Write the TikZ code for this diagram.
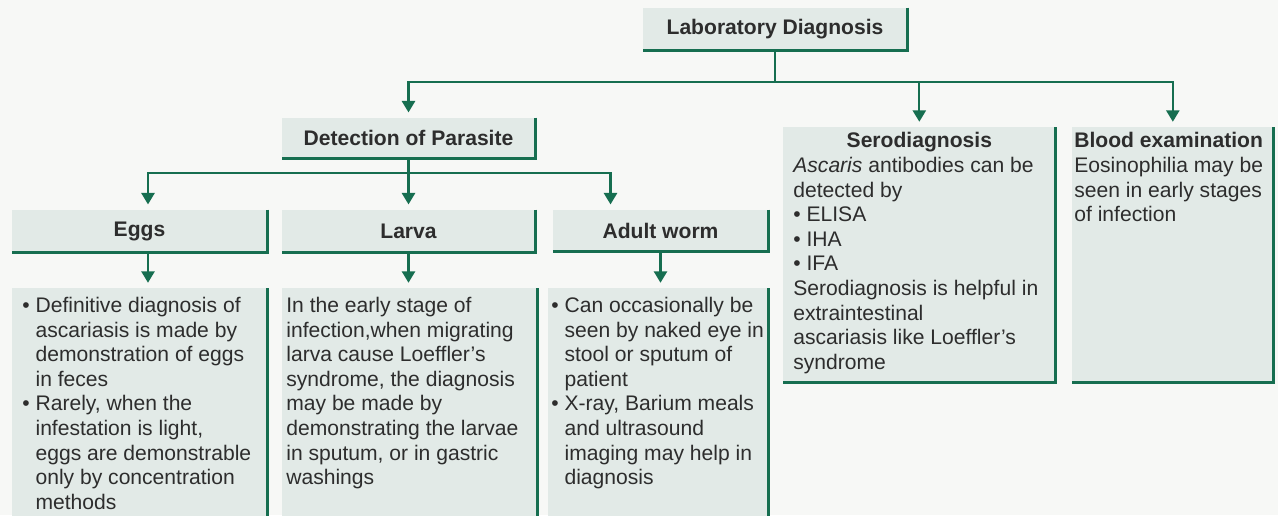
\documentclass[tikz,border=0pt]{standalone}
\usepackage{fontspec}
\setmainfont{Liberation Sans}
\usepackage{tikz}
\usetikzlibrary{arrows.meta, positioning}
\definecolor{dxgreen}{RGB}{22,110,80}
\definecolor{boxgray}{RGB}{226,234,231}
\definecolor{pagegray}{RGB}{247,248,246}
\definecolor{inkgray}{RGB}{45,45,45}
\newcommand\dotitem{\textbullet\ }
\newcommand\dotgap{\hphantom{\textbullet\ }}

\begin{document}
\begin{tikzpicture}[
  x=0.02cm, y=-0.02cm,
  font=\fontsize{12}{14}\selectfont,
  text=inkgray,
  headbox/.style={fill=boxgray, inner sep=0pt, minimum height=0.84cm,
                  font=\fontsize{12}{14}\selectfont\bfseries},
  textbox/.style={fill=boxgray, anchor=north west, inner ysep=5pt},
  rim/.style={draw=dxgreen, line width=1.7pt},
  link/.style={draw=dxgreen, line width=1.2pt,
               -{Triangle[width=7.5pt,length=6.5pt]}, shorten >=3pt},
]

%% Page (1278 x 515 px, 1px = 0.02cm)
\fill[pagegray] (0,0) rectangle (1278,515);
\useasboundingbox (0,0) rectangle (1278,515);
\clip (0,0) rectangle (1278,515);

%% Heading boxes
\node[headbox, minimum width=5.28cm] (lab) at (775,29) {Laboratory Diagnosis};
\node[headbox, minimum width=5.06cm, minimum height=0.8cm] (det) at (408.5,138) {Detection of Parasite};
\node[headbox, minimum width=5.1cm]  (eggs)  at (139.5,231) {Eggs};
\node[headbox, minimum width=5.06cm] (larva) at (408.5,231) {Larva};
\node[headbox, minimum width=4.3cm, minimum height=0.82cm] (adult) at (660.5,230.5) {Adult worm};

%% Text boxes
\node[textbox, inner xsep=0.2cm] (eggsC) at (12,288) {\parbox[t][4.49cm][t]{4.7cm}{\raggedright
  \dotitem Definitive diagnosis of\\
  \dotgap ascariasis is made by\\
  \dotgap demonstration of eggs\\
  \dotgap in feces\\
  \dotitem Rarely, when the\\
  \dotgap infestation is light,\\
  \dotgap eggs are demonstrable\\
  \dotgap only by concentration\\
  \dotgap methods}};
\node[textbox, inner xsep=0.08cm] (larvaC) at (282,288) {\parbox[t][4.49cm][t]{4.94cm}{\raggedright
  In the early stage of\\
  infection,when migrating\\
  larva cause Loeffler's\\
  syndrome, the diagnosis\\
  may be made by\\
  demonstrating the larvae\\
  in sputum, or in gastric\\
  washings}};
\node[textbox, inner xsep=0.06cm] (adultC) at (548,288) {\parbox[t][4.49cm][t]{4.28cm}{\raggedright
  \dotitem Can occasionally be\\
  \dotgap seen by naked eye in\\
  \dotgap stool or sputum of\\
  \dotgap patient\\
  \dotitem X-ray, Barium meals\\
  \dotgap and ultrasound\\
  \dotgap imaging may help in\\
  \dotgap diagnosis}};
\node[textbox, inner xsep=0.2cm, inner ysep=3pt] (sero) at (783,127) {\parbox[t][4.89cm][t]{5.04cm}{
  \centering\textbf{Serodiagnosis}\par\raggedright
  \textit{Ascaris} antibodies can be\\
  detected by\\
  \dotitem ELISA\\
  \dotitem IHA\\
  \dotitem IFA\\
  Serodiagnosis is helpful in\\
  extraintestinal\\
  ascariasis like Loeffler's\\
  syndrome}};
\node[textbox, inner xsep=0.04cm, inner ysep=3pt] (blood) at (1072,127) {\parbox[t][4.89cm][t]{3.94cm}{\raggedright
  \textbf{Blood examination}\\
  Eosinophilia may be\\
  seen in early stages\\
  of infection}};

%% Green rims on right and bottom edges
\foreach \n in {lab,det,eggs,larva,adult,eggsC,larvaC,adultC,sero,blood}{
  \draw[rim] (\n.north east) -- (\n.south east) -- (\n.south west);
}

%% Connectors
\draw[link] (lab.south) -- ++(0,32) -| (det.north);
\draw[link] (lab.south) -- ++(0,32) -| (sero.north);
\draw[link] (lab.south) -- ++(0,32) -| (blood.north);

\draw[link] (det.south) -- ++(0,15) -| ([xshift=0.17cm]eggs.north);
\draw[link] (det.south) -- ++(0,15) -| (larva.north);
\draw[link] (det.south) -- ++(0,15) -| ([xshift=-1cm]adult.north);

\draw[link] ([xshift=0.17cm]eggs.south) -- ([xshift=0.17cm]eggs.south |- eggsC.north);
\draw[link] (larva.south) -- (larva.south |- larvaC.north);
\draw[link] (adult.south) -- (adult.south |- adultC.north);

\end{tikzpicture}
\end{document}
